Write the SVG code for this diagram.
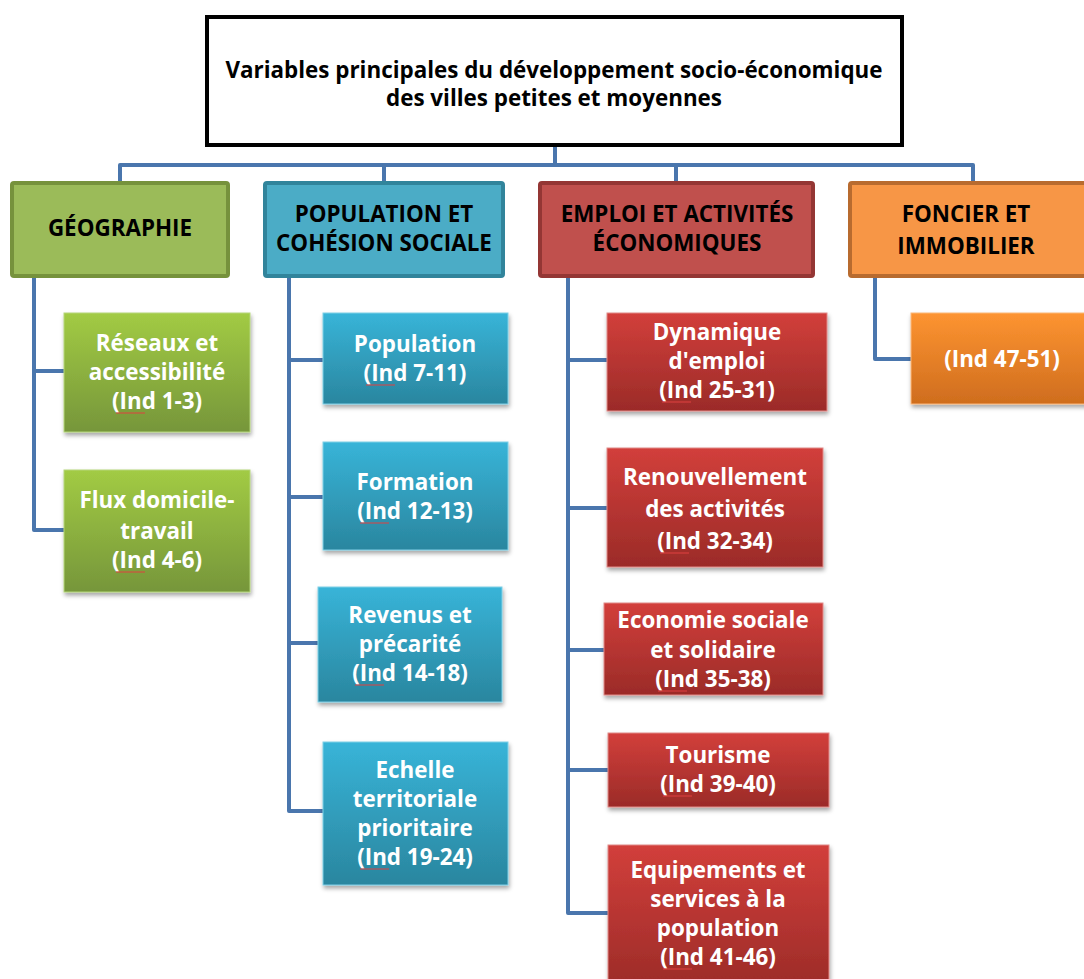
<svg xmlns="http://www.w3.org/2000/svg" width="1084" height="979" viewBox="0 0 1084 979">
<style>
.t{font-family:"Open Sans","Liberation Sans",sans-serif;font-weight:bold;font-size:22.4px;text-anchor:middle}
.w{fill:#ffffff}
.k{fill:#000000}
.conn{fill:none;stroke:#4a76ad;stroke-width:4;stroke-linejoin:round}
.sq{fill:none;stroke:#e04040;stroke-width:1}
</style>
<defs>
<linearGradient id="gG" x1="0" y1="0" x2="0" y2="1"><stop offset="0" stop-color="#a2cb44"/><stop offset="1" stop-color="#76963a"/></linearGradient>
<linearGradient id="gB" x1="0" y1="0" x2="0" y2="1"><stop offset="0" stop-color="#38b4d8"/><stop offset="1" stop-color="#2a869f"/></linearGradient>
<linearGradient id="gR" x1="0" y1="0" x2="0" y2="1"><stop offset="0" stop-color="#d23f3b"/><stop offset="1" stop-color="#9b2b28"/></linearGradient>
<linearGradient id="gO" x1="0" y1="0" x2="0" y2="1"><stop offset="0" stop-color="#fd9431"/><stop offset="1" stop-color="#cf6d1e"/></linearGradient>
<filter id="sh" x="-10%" y="-10%" width="125%" height="130%"><feDropShadow dx="1" dy="3" stdDeviation="2" flood-color="#000" flood-opacity="0.35"/></filter>
</defs>

<g id="connectors">
<path class="conn" d="M555 147 V165 M120 182 V165 H973 V182 M384 165 V182 M676 165 V182"/>
<path class="conn" d="M34 277 V530 H64 M34 371 H64"/>
<path class="conn" d="M289 277 V811 H323 M289 360 H323 M289 497 H323 M289 643 H318"/>
<path class="conn" d="M568 277 V913 H608 M568 360 H607 M568 508 H607 M568 650 H604 M568 770 H608"/>
<path class="conn" d="M875 277 V359 H911"/>
</g>

<g id="title">
<rect x="207" y="17" width="695" height="128" fill="#ffffff" stroke="#000000" stroke-width="4"/>
<text class="t k" x="554" y="78">Variables principales du développement socio-économique</text>
<text class="t k" x="554" y="106">des villes petites et moyennes</text>
</g>

<g id="cat-geo">
<rect x="12" y="183" width="216" height="93" rx="2" fill="#9bbb59" stroke="#76923c" stroke-width="4"/>
<text class="t k" x="120" y="236">GÉOGRAPHIE</text>
</g>
<g id="cat-pop">
<rect x="265" y="183" width="238" height="93" rx="2" fill="#4bacc6" stroke="#31849b" stroke-width="4"/>
<text class="t k" x="384" y="222">POPULATION ET</text>
<text class="t k" x="384" y="251">COHÉSION SOCIALE</text>
</g>
<g id="cat-emp">
<rect x="540" y="183" width="273" height="93" rx="2" fill="#c0504d" stroke="#943634" stroke-width="4"/>
<text class="t k" x="677" y="222">EMPLOI ET ACTIVITÉS</text>
<text class="t k" x="677" y="251">ÉCONOMIQUES</text>
</g>
<g id="cat-fon">
<rect x="850" y="183" width="250" height="93" rx="2" fill="#f79646" stroke="#b86b2f" stroke-width="4"/>
<text class="t k" x="966" y="222">FONCIER ET</text>
<text class="t k" x="966" y="254">IMMOBILIER</text>
</g>

<g id="n-reseaux">
<rect x="64" y="313" width="186" height="119" fill="url(#gG)" stroke="#b5d67a" stroke-width="1" filter="url(#sh)"/>
<text class="t w" x="157" y="351">Réseaux et</text>
<text class="t w" x="157" y="380">accessibilité</text>
<text class="t w" x="157" y="409">(Ind 1-3)</text>
<path class="sq" d="M116 413 h29"/>
</g>
<g id="n-flux">
<rect x="64" y="470" width="186" height="122" fill="url(#gG)" stroke="#b5d67a" stroke-width="1" filter="url(#sh)"/>
<text class="t w" x="157" y="508">Flux domicile-</text>
<text class="t w" x="157" y="539">travail</text>
<text class="t w" x="157" y="568">(Ind 4-6)</text>
<path class="sq" d="M116 572 h29"/>
</g>

<g id="n-population">
<rect x="323" y="313" width="185" height="91" fill="url(#gB)" stroke="#7fcfe6" stroke-width="1" filter="url(#sh)"/>
<text class="t w" x="415" y="352">Population</text>
<text class="t w" x="415" y="381">(Ind 7-11)</text>
<path class="sq" d="M366 385 h29"/>
</g>
<g id="n-formation">
<rect x="323" y="442" width="185" height="108" fill="url(#gB)" stroke="#7fcfe6" stroke-width="1" filter="url(#sh)"/>
<text class="t w" x="415" y="490">Formation</text>
<text class="t w" x="415" y="519">(Ind 12-13)</text>
<path class="sq" d="M360 523 h29"/>
</g>
<g id="n-revenus">
<rect x="318" y="587" width="184" height="115" fill="url(#gB)" stroke="#7fcfe6" stroke-width="1" filter="url(#sh)"/>
<text class="t w" x="410" y="623">Revenus et</text>
<text class="t w" x="410" y="652">précarité</text>
<text class="t w" x="410" y="681">(Ind 14-18)</text>
<path class="sq" d="M355 685 h29"/>
</g>
<g id="n-echelle">
<rect x="323" y="742" width="185" height="143" fill="url(#gB)" stroke="#7fcfe6" stroke-width="1" filter="url(#sh)"/>
<text class="t w" x="415" y="778">Echelle</text>
<text class="t w" x="415" y="807">territoriale</text>
<text class="t w" x="415" y="836">prioritaire</text>
<text class="t w" x="415" y="865">(Ind 19-24)</text>
<path class="sq" d="M360 869 h29"/>
</g>

<g id="n-dynamique">
<rect x="607" y="313" width="220" height="98" fill="url(#gR)" stroke="#e08a88" stroke-width="1" filter="url(#sh)"/>
<text class="t w" x="717" y="340">Dynamique</text>
<text class="t w" x="717" y="369">d'emploi</text>
<text class="t w" x="717" y="398">(Ind 25-31)</text>
<path class="sq" d="M662 402 h29"/>
</g>
<g id="n-renouvellement">
<rect x="607" y="448" width="216" height="119" fill="url(#gR)" stroke="#e08a88" stroke-width="1" filter="url(#sh)"/>
<text class="t w" x="715" y="485">Renouvellement</text>
<text class="t w" x="715" y="517">des activités</text>
<text class="t w" x="715" y="549">(Ind 32-34)</text>
<path class="sq" d="M660 553 h29"/>
</g>
<g id="n-economie">
<rect x="604" y="603" width="219" height="92" fill="url(#gR)" stroke="#e08a88" stroke-width="1" filter="url(#sh)"/>
<text class="t w" x="713" y="628">Economie sociale</text>
<text class="t w" x="713" y="658">et solidaire</text>
<text class="t w" x="713" y="687">(Ind 35-38)</text>
<path class="sq" d="M658 691 h29"/>
</g>
<g id="n-tourisme">
<rect x="608" y="733" width="221" height="74" fill="url(#gR)" stroke="#e08a88" stroke-width="1" filter="url(#sh)"/>
<text class="t w" x="718" y="763">Tourisme</text>
<text class="t w" x="718" y="792">(Ind 39-40)</text>
<path class="sq" d="M663 796 h29"/>
</g>
<g id="n-equipements">
<rect x="608" y="845" width="221" height="145" fill="url(#gR)" stroke="#e08a88" stroke-width="1" filter="url(#sh)"/>
<text class="t w" x="718" y="878">Equipements et</text>
<text class="t w" x="718" y="907">services à la</text>
<text class="t w" x="718" y="936">population</text>
<text class="t w" x="718" y="965">(Ind 41-46)</text>
<path class="sq" d="M663 969 h29"/>
</g>

<g id="n-foncier">
<rect x="911" y="313" width="190" height="91" fill="url(#gO)" stroke="#fbb77a" stroke-width="1" filter="url(#sh)"/>
<text class="t w" x="1002" y="367">(Ind 47-51)</text>
</g>
</svg>
